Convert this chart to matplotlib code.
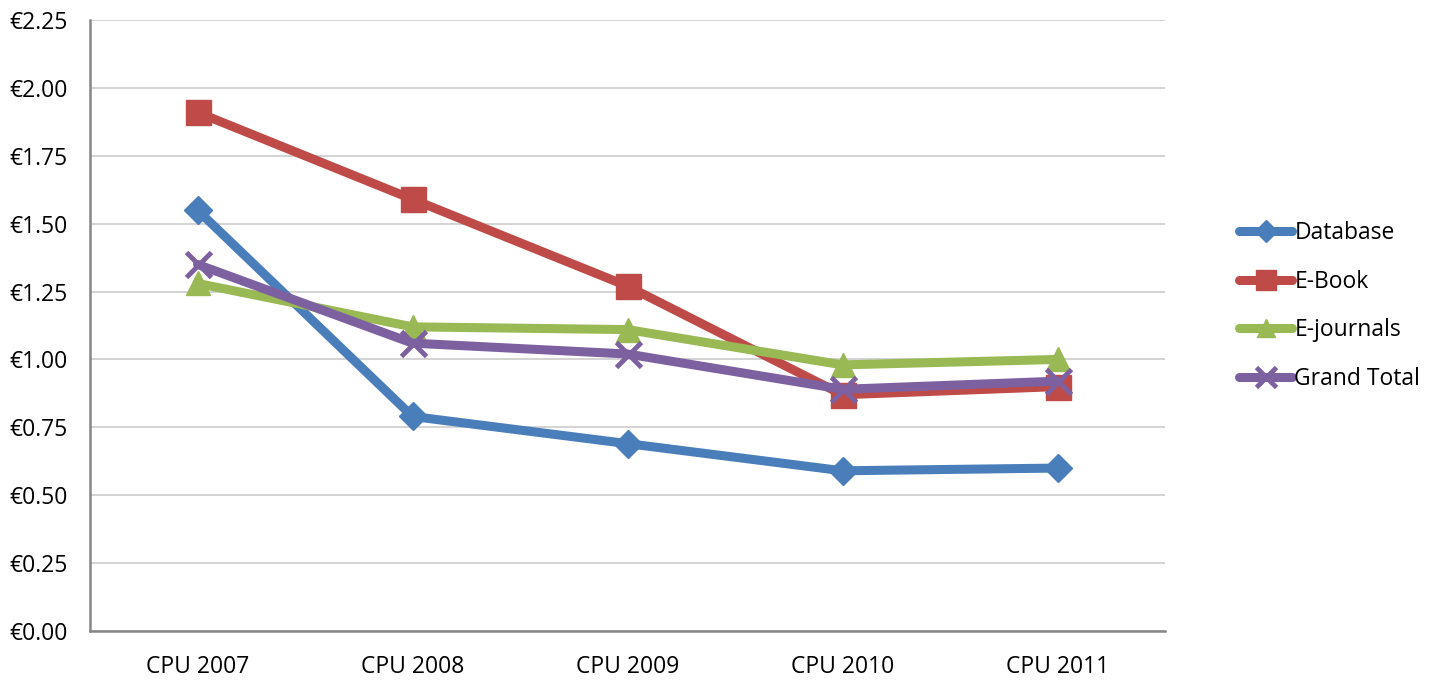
# Cost per use line chart, 2007-2011

import numpy as np
import matplotlib.pyplot as plt
from matplotlib.ticker import FuncFormatter

categories = ['CPU 2007', 'CPU 2008', 'CPU 2009', 'CPU 2010', 'CPU 2011']
database = [1.55, 0.79, 0.69, 0.59, 0.60]
ebook = [1.91, 1.59, 1.27, 0.87, 0.90]
ejournals = [1.28, 1.12, 1.11, 0.98, 1.00]
grand_total = [1.35, 1.06, 1.02, 0.89, 0.92]

series = [
    ('Database', database, '#4A7EBB', 'D', 14, 1),
    ('E-Book', ebook, '#BE4B48', 's', 18, 1),
    ('E-journals', ejournals, '#98B954', '^', 17, 1),
    ('Grand Total', grand_total, '#7D60A0', 'x', 18, 3.5),
]

plt.rcParams['font.family'] = ['Open Sans', 'DejaVu Sans']

fig = plt.figure(figsize=(14.3, 6.81), dpi=100)
ax = fig.add_axes([90 / 1430, 50 / 681, 1075 / 1430, 611 / 681])

x = np.arange(len(categories)) + 0.5
for name, vals, col, mk, ms, mew in series:
    ax.plot(x, vals, color=col, lw=6.5, marker=mk, ms=ms, mew=mew,
            mfc=col, mec=col, label=name, solid_capstyle='round', zorder=3)

ax.set_xlim(0, 5)
ax.set_ylim(0, 2.25)
ax.set_yticks(np.arange(0, 2.26, 0.25))
ax.yaxis.set_major_formatter(FuncFormatter(lambda v, p: '€%.2f' % v))
ax.set_xticks(x)
ax.set_xticklabels(categories)
ax.tick_params(axis='x', length=0, pad=17, labelsize=16.5)
ax.tick_params(axis='y', length=0, pad=16, labelsize=16.5)
ax.grid(axis='y', color='#D0D0D0', lw=1.3)
ax.set_axisbelow(True)
for s in ['top', 'right']:
    ax.spines[s].set_visible(False)
for s in ['left', 'bottom']:
    ax.spines[s].set_color('#868686')
    ax.spines[s].set_linewidth(1.8)

leg = ax.legend(loc='center left', bbox_to_anchor=(1.05, 0.532), frameon=False,
                fontsize=16.5, handlelength=2.3, handletextpad=0.1, labelspacing=1.07,
                markerscale=0.8)

fig.savefig('out.png', dpi=100)
